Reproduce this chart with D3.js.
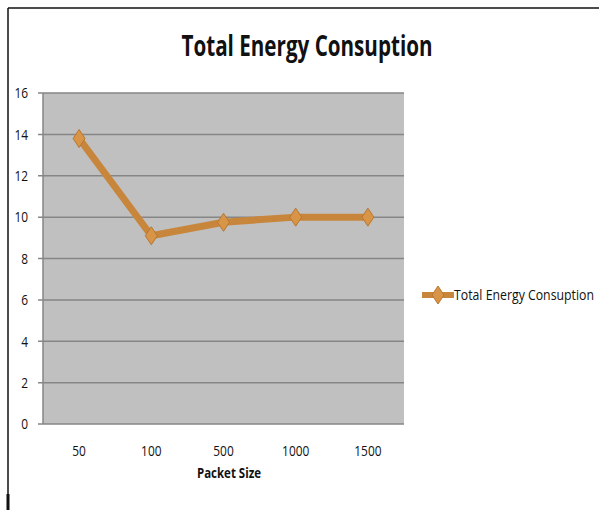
<!DOCTYPE html>
<html>
<head>
<meta charset="utf-8">
<script src="https://cdn.jsdelivr.net/npm/d3@7"></script>
<style>
  body { margin: 0; background: #fff; }
  svg text { font-family: "Open Sans", sans-serif; fill: #111; }
</style>
</head>
<body>
<svg width="599" height="510"></svg>
<script>
var categories = ['50', '100', '500', '1000', '1500']
var energy = [13.8, 9.1, 9.75, 10.0, 10.0]
var yTicks = [0, 2, 4, 6, 8, 10, 12, 14, 16]
var seriesName = 'Total Energy Consuption'

var svg = d3.select('svg')
var plotL = 43, plotR = 404, plotT = 93, plotB = 424

// frame lines
svg.append('line').attr('x1', 8).attr('x2', 599).attr('y1', 8).attr('y2', 8)
  .attr('stroke', '#111').attr('stroke-width', 1.5)
svg.append('line').attr('x1', 8).attr('x2', 8).attr('y1', 8).attr('y2', 510)
  .attr('stroke', '#111').attr('stroke-width', 1.5)
svg.append('line').attr('x1', 8).attr('x2', 8).attr('y1', 494).attr('y2', 510)
  .attr('stroke', '#111').attr('stroke-width', 3)

var x = d3.scaleBand().domain(categories).range([plotL, plotR])
var y = d3.scaleLinear().domain([0, 16]).range([plotB, plotT])

svg.append('rect')
  .attr('x', plotL).attr('y', plotT)
  .attr('width', plotR - plotL).attr('height', plotB - plotT)
  .attr('fill', '#c0c0c0')

// gridlines
svg.append('g').selectAll('line').data(yTicks).enter().append('line')
  .attr('x1', plotL - 5).attr('x2', plotR)
  .attr('y1', function(d) { return y(d) }).attr('y2', function(d) { return y(d) })
  .attr('stroke', '#868686').attr('stroke-width', 1.5)

svg.append('line').attr('x1', plotL).attr('x2', plotL).attr('y1', plotT).attr('y2', plotB)
  .attr('stroke', '#868686').attr('stroke-width', 1.5)

function narrow(sel) {
  sel.style('font-size', '15px').attr('fill', '#111')
    .attr('lengthAdjust', 'spacingAndGlyphs')
    .attr('textLength', function() { return this.textContent.length * 6.8 })
}

var yAxis = svg.append('g')
  .attr('transform', 'translate(' + (plotL - 5) + ',0)')
  .call(d3.axisLeft(y).tickValues(yTicks).tickSize(0).tickPadding(10))
yAxis.select('.domain').remove()
yAxis.selectAll('text').call(narrow)

var xAxis = svg.append('g')
  .attr('transform', 'translate(0,' + plotB + ')')
  .call(d3.axisBottom(x).tickSize(0).tickPadding(21))
xAxis.select('.domain').remove()
xAxis.selectAll('text').call(narrow)

svg.append('text')
  .attr('x', 229).attr('y', 478)
  .attr('text-anchor', 'middle')
  .attr('textLength', 64).attr('lengthAdjust', 'spacingAndGlyphs')
  .style('font-size', '15px').style('font-weight', 'bold')
  .text('Packet Size')

svg.append('text')
  .attr('x', 307).attr('y', 56)
  .attr('text-anchor', 'middle')
  .attr('textLength', 251).attr('lengthAdjust', 'spacingAndGlyphs')
  .style('font-size', '28px').style('font-weight', 'bold')
  .text(seriesName)

var color = '#c8863c'
var line = d3.line()
  .x(function(d, i) { return x(categories[i]) + x.bandwidth() / 2 })
  .y(function(d) { return y(d) })

svg.append('path').datum(energy)
  .attr('d', line)
  .attr('fill', 'none').attr('stroke', color).attr('stroke-width', 7)
  .attr('stroke-linejoin', 'round')

var diamond = 'M0,-9 L6,0 L0,9 L-6,0 Z'
svg.append('g').selectAll('path').data(energy).enter().append('path')
  .attr('transform', function(d, i) {
    return 'translate(' + (x(categories[i]) + x.bandwidth() / 2) + ',' + y(d) + ')'
  })
  .attr('d', diamond)
  .attr('fill', '#d89548').attr('stroke', '#b87630').attr('stroke-width', 1)

// legend
var lg = svg.append('g').attr('transform', 'translate(422,295)')
lg.append('line').attr('x1', 0).attr('x2', 32).attr('y1', 0).attr('y2', 0)
  .attr('stroke', color).attr('stroke-width', 6)
lg.append('path').attr('d', diamond).attr('transform', 'translate(16,0)')
  .attr('fill', '#d89548').attr('stroke', '#b87630').attr('stroke-width', 1)
lg.append('text').attr('x', 32).attr('y', 5)
  .attr('textLength', 140).attr('lengthAdjust', 'spacingAndGlyphs')
  .style('font-size', '14px')
  .text(seriesName)
</script>
</body>
</html>
